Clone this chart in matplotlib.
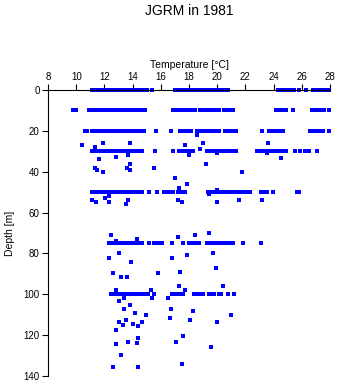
import matplotlib
matplotlib.use("Agg")
import matplotlib.pyplot as plt

plt.rcParams['font.family'] = ['Liberation Sans', 'DejaVu Sans']

# temperatures along the standard sampling depths
depth0_temp = [11.1, 11.3, 11.5, 11.7, 11.9, 12.1, 12.3, 12.5, 12.7, 12.9,
               13.1, 13.3, 13.5, 13.7, 13.9, 14.1, 14.3, 14.5, 14.7, 14.8,
               15.0, 15.35, 17.0, 17.2, 17.4, 17.6, 17.8, 18.0,
               18.2, 18.4, 18.6, 18.8, 19.0, 19.2, 19.4, 19.6,
               19.95, 20.15, 20.35, 20.55, 20.75,
               24.3, 24.5, 24.7, 24.9, 25.1, 25.3, 25.45,
               25.8, 26.3, 26.8, 27.05, 27.25, 27.5, 27.7, 27.95]
depth10_temp = [9.8, 10.0, 10.9, 11.15, 11.35, 11.6, 11.8, 12.0, 12.2, 12.4,
                12.6, 12.8, 13.0, 13.2, 13.4, 13.6, 13.8, 14.0, 14.2, 14.4, 14.6, 14.8, 14.9,
                16.85, 17.05, 17.3, 17.5, 17.7, 17.9, 18.1, 18.3, 18.45,
                18.8, 19.0, 19.3, 19.5, 19.7, 19.9, 20.1, 20.5, 20.6,
                20.75, 20.95, 21.15, 24.15, 24.35, 24.55, 24.75, 24.9, 25.4,
                26.75, 26.95, 27.15, 27.35, 27.6, 27.9]
depth20_temp = [10.6, 10.8, 11.15, 11.35, 11.65, 11.8, 12.0, 12.2, 12.5,
                12.6, 12.8, 13.0, 13.2, 13.4, 13.6, 13.8, 14.0, 14.2, 14.4, 14.6, 14.8,
                15.65, 16.75, 17.35, 17.55, 17.75, 17.95, 18.15, 18.6, 18.8, 19.0,
                19.3, 19.5, 19.7, 19.9, 20.1, 20.55, 20.75, 20.95, 21.15, 21.3,
                23.2, 23.7, 23.9, 24.1, 24.3, 24.5, 24.7,
                26.6, 26.8, 27.0, 27.2, 27.4, 27.5, 27.95]
depth30_temp = [11.1, 11.3, 11.5, 11.7, 11.9, 12.1, 12.3, 12.5, 12.7, 12.9,
                13.1, 13.3, 13.5, 13.7, 13.9, 14.1, 14.3, 14.5, 14.65,
                15.6, 16.85, 17.3, 17.5, 17.7, 17.9, 18.1, 18.3,
                19.3, 19.5, 19.7, 19.9, 20.1, 20.4, 20.6, 20.8, 21.0, 21.2, 21.3,
                22.85, 23.05, 23.25, 23.45, 23.65, 23.8, 24.1, 24.3, 24.5, 24.6,
                24.9, 25.5, 25.9, 26.2, 26.5, 27.1]
depth50_temp = [11.1, 11.35, 11.6, 11.9, 12.1, 12.3, 12.5, 12.7, 12.9, 13.1, 13.3,
                13.5, 13.7, 13.9, 14.1, 14.3, 14.5, 14.7, 15.15, 15.75,
                16.2, 16.5, 16.7, 16.9, 17.2, 17.4, 17.6, 17.75,
                19.35, 19.5, 19.65, 19.85, 20.0, 20.2, 20.35, 20.5, 20.65, 20.75,
                20.95, 21.15, 21.3, 21.45, 21.65, 21.85, 22.05, 22.3,
                23.1, 23.3, 23.5, 23.95, 25.65, 25.8]
depth75_temp = [12.3, 12.5, 12.7, 12.9, 13.1, 13.3, 13.5, 13.7, 13.9, 14.1, 14.3,
                14.5, 14.65, 15.15, 15.5, 15.7, 15.9, 16.1, 16.8, 17.6, 18.0,
                18.3, 18.5, 18.7, 19.25, 19.4, 19.65, 19.85, 20.05, 20.25,
                20.4, 20.6, 20.8, 21.0, 21.1, 21.8, 23.1]
depth100_temp = [12.5, 12.7, 12.9, 13.1, 13.3, 13.5, 13.7, 13.9, 14.1, 14.3, 14.55,
                 14.8, 15.0, 15.1, 15.5, 16.8, 17.0, 17.2, 17.4, 17.6,
                 18.35, 18.6, 18.85, 19.0, 19.4, 19.6, 19.75, 20.1, 20.3, 20.8, 21.2]

# individual casts between the standard depths
extra_temp = [10.4, 11.3, 11.9, 13.8, 17.7, 19.0, 18.6, 23.6, 18.8,
              11.6, 12.85, 13.7, 13.85, 18.0, 20.0, 23.5, 24.5, 19.2,
              11.3, 11.5, 11.9, 13.6, 13.8, 15.55, 17.0, 21.75,
              17.3, 17.85, 20.0, 19.4,
              11.15, 11.4, 12.05, 12.3, 12.35, 13.5, 13.7, 17.25, 17.5, 20.0, 21.55, 23.2,
              12.45, 12.8, 14.3, 17.2, 18.4, 19.45,
              12.35, 13.05, 13.9, 16.8, 17.85, 19.7, 19.9, 17.35,
              12.6, 13.2, 13.6, 15.8,
              12.8, 15.3, 17.3, 17.7, 20.4,
              13.4, 13.0, 13.85, 15.4, 16.5,
              13.4, 14.15, 14.95, 16.7, 18.3, 21.0,
              16.65, 18.05, 20.0, 13.0, 13.5, 13.3, 14.05, 14.65, 14.4,
              12.85, 14.35, 13.7, 14.3, 12.8, 17.1, 17.6, 19.55,
              13.15, 12.6, 14.35, 17.5]
extra_depth = [26.8, 28, 26, 26, 27, 26, 22, 26, 28.9,
               34, 33, 31.9, 36, 31.9, 31, 31, 33.2, 36.1,
               38, 39.2, 40.2, 38, 39.2, 38, 43, 40.2,
               48, 46, 49, 51,
               54, 55, 53, 52, 55, 56, 54, 54, 55, 55, 54, 54,
               71, 73.9, 73, 72, 71, 70,
               82, 80, 84, 82, 81, 80, 87, 89,
               89.7, 91.7, 91.7, 89.7,
               98, 98, 96, 98, 96,
               102, 103.5, 105, 102, 102,
               107, 109, 110, 107, 108, 110,
               111.8, 112.7, 113.7, 113.7, 112.7, 115.2, 114.7, 113.7, 115.7,
               117.6, 121.6, 123.5, 124, 124.5, 123.5, 120.6, 125.7,
               129.8, 135.8, 135.8, 134]

rows = [(0, depth0_temp), (10, depth10_temp), (20, depth20_temp), (30, depth30_temp),
        (50, depth50_temp), (75, depth75_temp), (100, depth100_temp)]

temps = list(extra_temp)
depths = list(extra_depth)
for d, tl in rows:
    temps += tl
    depths += [d] * len(tl)

fig = plt.figure(figsize=(3.41, 3.84), dpi=100)
ax = fig.add_axes([48 / 341, 8 / 384, 282 / 341, 286 / 384])

ax.plot(temps, depths, linestyle='none', marker='s', markersize=2.2,
        markeredgewidth=0, color='#0000ff', clip_on=False)

ax.set_xlim(8, 28)
ax.set_ylim(140, 0)
ax.set_xticks(range(8, 29, 2))
ax.set_yticks(range(0, 141, 20))

ax.spines['right'].set_visible(False)
ax.spines['bottom'].set_visible(False)
for s in ('left', 'top'):
    ax.spines[s].set_linewidth(0.8)

ax.xaxis.tick_top()
ax.xaxis.set_label_position('top')
ax.tick_params(axis='both', direction='out', length=4, width=0.8, labelsize=7, pad=2)
ax.set_xlabel('Temperature [\u00b0C]', fontsize=7.5, labelpad=3)
ax.set_ylabel('Depth [m]', fontsize=7.5, labelpad=6)

fig.text(189 / 341, 1 - 11 / 384, 'JGRM in 1981', ha='center', va='center', fontsize=10)

fig.savefig('out.png', dpi=100)
